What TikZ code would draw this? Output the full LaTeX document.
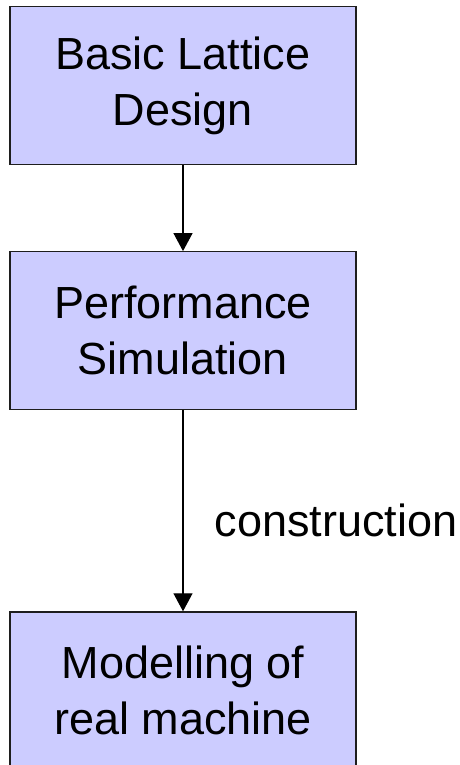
\documentclass[tikz,border=0pt]{standalone}
\usepackage{fontspec}
\setmainfont{Liberation Sans}
\usetikzlibrary{positioning, arrows.meta}
\definecolor{boxfill}{RGB}{204,204,255}
\definecolor{boxedge}{RGB}{30,30,30}

\begin{document}
\begin{tikzpicture}[
  x=1pt, y=1pt,
  block/.style={
    draw=boxedge, fill=boxfill, line width=1.2pt,
    minimum width=346pt, minimum height=158pt, inner sep=0pt,
    align=center, font=\fontsize{45}{56}\selectfont
  },
  conn/.style={-{Triangle[length=18pt, width=19pt]}, line width=1.2pt, black},
  lbl/.style={font=\fontsize{45}{56}\selectfont, inner sep=0pt}
]
  \useasboundingbox (0,0) rectangle (459,-765);

  \node[block] at (183,-85.5) (design) {Basic Lattice\\Design};
  \node[block, below=86pt of design] (sim)   {Performance\\Simulation};
  \node[block, below=201pt of sim]   (model) {Modelling of\\real machine};

  \draw[conn] (design) -- (sim);
  \draw[conn] (sim) -- node[lbl, pos=0.627, anchor=base west, xshift=31pt] (constr) {construction} (model);
\end{tikzpicture}
\end{document}
